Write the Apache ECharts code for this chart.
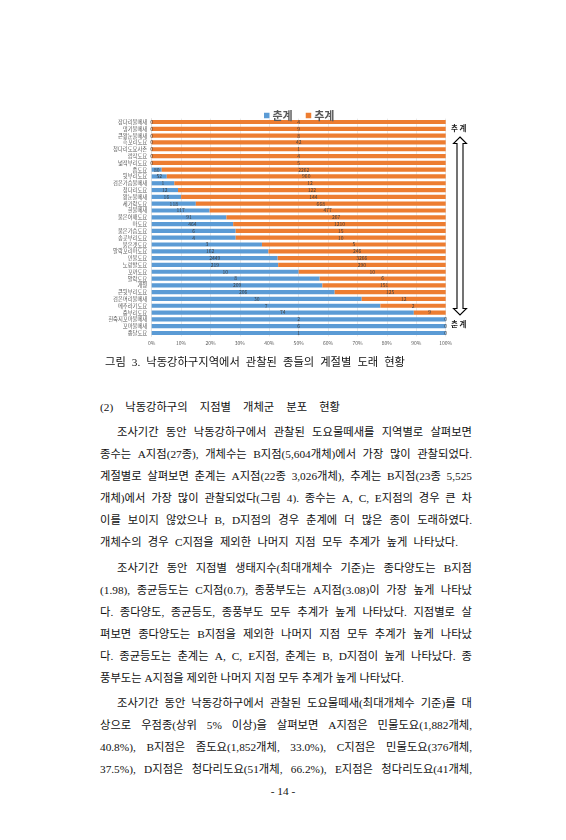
<!DOCTYPE html>
<html>
<head>
<meta charset="utf-8">
<script src="https://cdn.jsdelivr.net/npm/echarts@6/dist/echarts.min.js"></script>
<style>
  body { margin: 0; width: 566px; height: 840px; background: #fff; position: relative; overflow: hidden; }
  #chart { position: absolute; left: 0; top: 0; width: 566px; height: 360px; }
  .ln { position: absolute; white-space: nowrap; text-align: justify; text-align-last: justify;
        font-size: 11.3px; line-height: 14px; height: 14px; color: #111;
        font-family: "Liberation Serif", "Noto Sans CJK KR", serif; }
</style>
</head>
<body>
<div id="chart"></div>

<div class="ln" style="left:105px;top:355px;width:300px">그림 3. 낙동강하구지역에서 관찰된 종들의 계절별 도래 현황</div>

<div class="ln" style="left:100px;top:400px;width:240px">(2) 낙동강하구의 지점별 개체군 분포 현황</div>

<div class="ln" style="left:117px;top:425px;width:355px">조사기간 동안 낙동강하구에서 관찰된 도요물떼새를 지역별로 살펴보면</div>
<div class="ln" style="left:100px;top:447px;width:372px">종수는 A지점(27종), 개체수는 B지점(5,604개체)에서 가장 많이 관찰되었다.</div>
<div class="ln" style="left:100px;top:469px;width:372px">계절별로 살펴보면 춘계는 A지점(22종 3,026개체), 추계는 B지점(23종 5,525</div>
<div class="ln" style="left:100px;top:491px;width:372px">개체)에서 가장 많이 관찰되었다(그림 4). 종수는 A, C, E지점의 경우 큰 차</div>
<div class="ln" style="left:100px;top:513px;width:372px">이를 보이지 않았으나 B, D지점의 경우 춘계에 더 많은 종이 도래하였다.</div>
<div class="ln" style="left:100px;top:535px;width:358px">개체수의 경우 C지점을 제외한 나머지 지점 모두 추계가 높게 나타났다.</div>

<div class="ln" style="left:117px;top:561px;width:355px">조사기간 동안 지점별 생태지수(최대개체수 기준)는 종다양도는 B지점</div>
<div class="ln" style="left:100px;top:583px;width:372px">(1.98), 종균등도는 C지점(0.7), 종풍부도는 A지점(3.08)이 가장 높게 나타났</div>
<div class="ln" style="left:100px;top:605px;width:372px">다. 종다양도, 종균등도, 종풍부도 모두 추계가 높게 나타났다. 지점별로 살</div>
<div class="ln" style="left:100px;top:627px;width:372px">펴보면 종다양도는 B지점을 제외한 나머지 지점 모두 추계가 높게 나타났</div>
<div class="ln" style="left:100px;top:649px;width:372px">다. 종균등도는 춘계는 A, C, E지점, 춘계는 B, D지점이 높게 나타났다. 종</div>
<div class="ln" style="left:100px;top:671px;width:303px">풍부도는 A지점을 제외한 나머지 지점 모두 추계가 높게 나타났다.</div>

<div class="ln" style="left:117px;top:696px;width:355px">조사기간 동안 낙동강하구에서 관찰된 도요물떼새(최대개체수 기준)를 대</div>
<div class="ln" style="left:100px;top:718px;width:372px">상으로 우점종(상위 5% 이상)을 살펴보면 A지점은 민물도요(1,882개체,</div>
<div class="ln" style="left:100px;top:740px;width:372px">40.8%), B지점은 좀도요(1,852개체, 33.0%), C지점은 민물도요(376개체,</div>
<div class="ln" style="left:100px;top:762px;width:372px">37.5%), D지점은 청다리도요(51개체, 66.2%), E지점은 청다리도요(41개체,</div>

<div class="ln" style="left:258px;top:784px;width:50px;text-align:center;text-align-last:center">- 14 -</div>

<script type="text/javascript">
var species = ['장다리물떼새', '댕기물떼새', '큰왕눈물떼새', '흑꼬리도요', '청다리도요사촌', '깝작도요', '넓적부리도요',
  '좀도요', '뒷부리도요', '검은가슴물떼새', '청다리도요', '왕눈물떼새', '세가락도요', '흰물떼새', '붉은어깨도요',
  '마도요', '붉은가슴도요', '송곳부리도요', '붉은갯도요', '알락꼬리마도요', '민물도요', '노랑발도요', '꼬까도요',
  '알락도요', '개꿩', '큰뒷부리도요', '검은머리물떼새', '메추라기도요', '중부리도요', '흰죽지꼬마물떼새', '꼬마물떼새', '종달도요'];
var spring = [0, 0, 0, 0, 0, 0, 0, 80, 52, 1, 12, 16, 118, 117, 91, 464, 6, 4, 3, 162, 2449, 219, 10, 8, 209, 206, 30, 7, 74, 2, 6, 1];
var autumn = [4, 9, 8, 42, 1, 4, 5, 2262, 960, 12, 122, 144, 668, 477, 267, 1210, 15, 10, 5, 246, 3266, 290, 10, 6, 151, 125, 12, 2, 9, 0, 0, 0];
var xTicks = ['0%', '10%', '20%', '30%', '40%', '50%', '60%', '70%', '80%', '90%', '100%'];

var springPct = spring.map(function (v, i) { return v / (v + autumn[i]) * 100; });
var autumnPct = autumn.map(function (v, i) { return v / (spring[i] + v) * 100; });

var dom = document.getElementById('chart');
var myChart = echarts.init(dom);
var labelStyle = { show: true, position: 'inside', fontSize: 5, color: '#404040', fontFamily: 'Noto Sans CJK KR' };

var option = {
  animation: false,
  textStyle: { fontFamily: 'Noto Sans CJK KR' },
  legend: {
    data: ['춘계', '추계'],
    left: 259, top: 105,
    itemWidth: 5.5, itemHeight: 5.5, itemGap: 13,
    icon: 'rect',
    textStyle: { fontSize: 11, color: '#595959', fontWeight: 'bold', padding: [0, 0, 0, -2] }
  },
  grid: { left: 151.7, right: 120.3, top: 118.6, height: 217.8 },
  xAxis: {
    type: 'value', min: 0, max: 100, interval: 10,
    axisLabel: { fontSize: 5, color: '#595959', margin: 4,
      formatter: function (v) { return xTicks[Math.round(v / 10)]; } },
    splitLine: { lineStyle: { color: '#d9d9d9', width: 0.6 } },
    axisLine: { show: false }, axisTick: { show: false }
  },
  yAxis: {
    type: 'category', data: species, inverse: true,
    axisLabel: { fontSize: 5.3, color: '#595959', margin: 4.5, interval: 0 },
    axisLine: { show: true, lineStyle: { color: '#d9d9d9', width: 0.6 } },
    axisTick: { show: false }
  },
  series: [
    { name: '춘계', type: 'bar', stack: 'all', data: springPct, barWidth: 4.2,
      itemStyle: { color: '#5B9BD5' },
      label: Object.assign({}, labelStyle, { formatter: function (p) { return spring[p.dataIndex]; } }) },
    { name: '추계', type: 'bar', stack: 'all', data: autumnPct, barWidth: 4.2,
      itemStyle: { color: '#ED7D31' },
      label: Object.assign({}, labelStyle, { formatter: function (p) { return autumn[p.dataIndex]; } }) }
  ],
  graphic: [
    { type: 'text', left: 451, top: 124, style: { text: '추 계', fontSize: 7.5, fontWeight: 'bold', fill: '#222', fontFamily: 'Noto Sans CJK KR' } },
    { type: 'text', left: 451, top: 320, style: { text: '춘 계', fontSize: 7.5, fontWeight: 'bold', fill: '#222', fontFamily: 'Noto Sans CJK KR' } },
    { type: 'polygon',
      shape: { points: [[460, 137], [466.5, 143.5], [463, 143.5], [463, 308.5], [466.5, 308.5], [460, 315], [453.5, 308.5], [457, 308.5], [457, 143.5], [453.5, 143.5]] },
      style: { fill: '#fff', stroke: '#000', lineWidth: 1.1 } }
  ]
};
myChart.setOption(option);
</script>
</body>
</html>
